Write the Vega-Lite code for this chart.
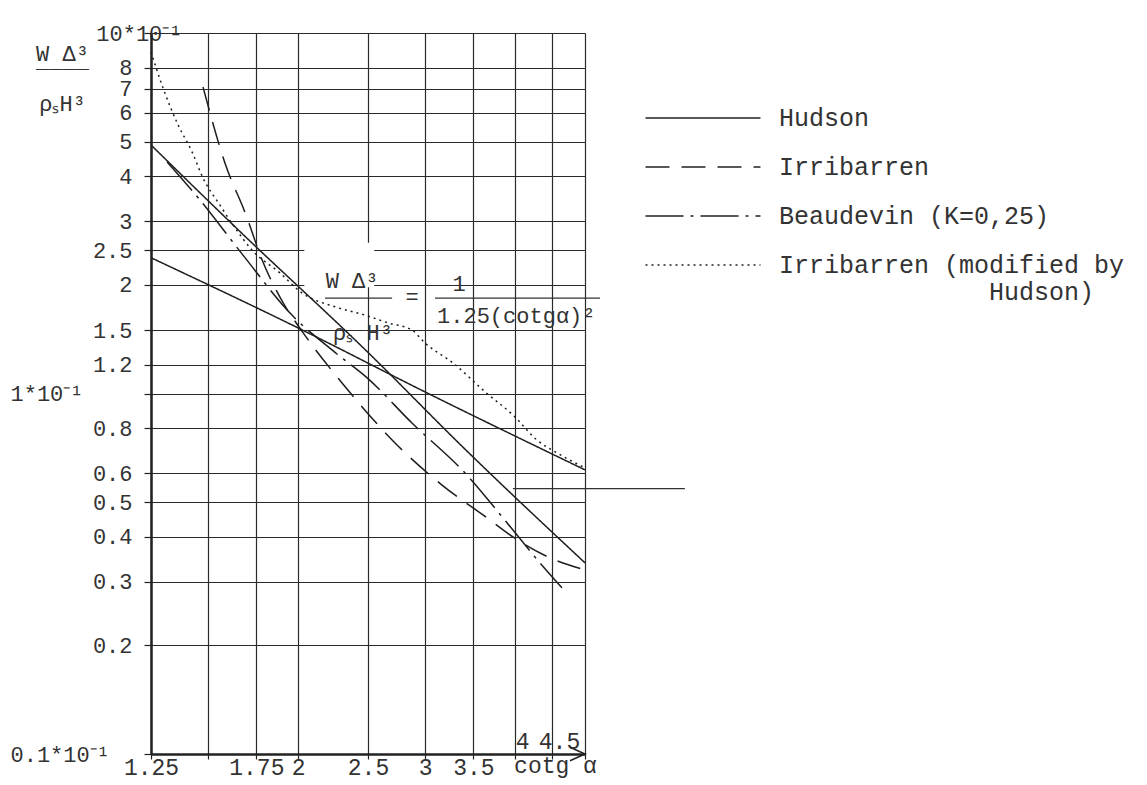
{
  "$schema": "https://vega.github.io/schema/vega-lite/v6.json",
  "width": 434,
  "height": 721,
  "autosize": {"type": "none"},
  "padding": {"left": 151, "top": 33, "right": 562, "bottom": 31},
  "background": "white",
  "config": {"view": {"stroke": null}, "font": "Liberation Mono"},
  "datasets": {
    "curves": [
      {"series": "Hudson", "curve": "H1", "cotg": 1.25, "value": 2.38},
      {"series": "Hudson", "curve": "H1", "cotg": 2.0, "value": 1.52},
      {"series": "Hudson", "curve": "H1", "cotg": 3.0, "value": 1.01},
      {"series": "Hudson", "curve": "H1", "cotg": 5.0, "value": 0.614},
      {"series": "Hudson", "curve": "H2", "cotg": 1.25, "value": 4.89},
      {"series": "Hudson", "curve": "H2", "cotg": 1.65, "value": 2.85},
      {"series": "Hudson", "curve": "H2", "cotg": 2.5, "value": 1.30},
      {"series": "Hudson", "curve": "H2", "cotg": 3.41, "value": 0.70},
      {"series": "Hudson", "curve": "H2", "cotg": 5.0, "value": 0.339},
      {"series": "Irribarren", "curve": "I", "cotg": 1.476, "value": 7.08},
      {"series": "Irribarren", "curve": "I", "cotg": 1.583, "value": 4.36},
      {"series": "Irribarren", "curve": "I", "cotg": 1.693, "value": 3.13},
      {"series": "Irribarren", "curve": "I", "cotg": 1.782, "value": 2.35},
      {"series": "Irribarren", "curve": "I", "cotg": 1.887, "value": 1.85},
      {"series": "Irribarren", "curve": "I", "cotg": 2.044, "value": 1.45},
      {"series": "Irribarren", "curve": "I", "cotg": 2.301, "value": 1.07},
      {"series": "Irribarren", "curve": "I", "cotg": 2.743, "value": 0.72},
      {"series": "Irribarren", "curve": "I", "cotg": 3.167, "value": 0.557},
      {"series": "Irribarren", "curve": "I", "cotg": 3.656, "value": 0.452},
      {"series": "Irribarren", "curve": "I", "cotg": 3.972, "value": 0.40},
      {"series": "Irribarren", "curve": "I", "cotg": 4.471, "value": 0.35},
      {"series": "Irribarren", "curve": "I", "cotg": 5.0, "value": 0.324},
      {"series": "Beaudevin (K=0,25)", "curve": "B", "cotg": 1.316, "value": 4.39},
      {"series": "Beaudevin (K=0,25)", "curve": "B", "cotg": 1.462, "value": 3.44},
      {"series": "Beaudevin (K=0,25)", "curve": "B", "cotg": 1.677, "value": 2.42},
      {"series": "Beaudevin (K=0,25)", "curve": "B", "cotg": 1.961, "value": 1.65},
      {"series": "Beaudevin (K=0,25)", "curve": "B", "cotg": 2.25, "value": 1.30},
      {"series": "Beaudevin (K=0,25)", "curve": "B", "cotg": 2.5, "value": 1.10},
      {"series": "Beaudevin (K=0,25)", "curve": "B", "cotg": 2.877, "value": 0.828},
      {"series": "Beaudevin (K=0,25)", "curve": "B", "cotg": 3.408, "value": 0.602},
      {"series": "Beaudevin (K=0,25)", "curve": "B", "cotg": 3.972, "value": 0.418},
      {"series": "Beaudevin (K=0,25)", "curve": "B", "cotg": 4.33, "value": 0.339},
      {"series": "Beaudevin (K=0,25)", "curve": "B", "cotg": 4.646, "value": 0.289},
      {"series": "Irribarren (modified by Hudson)", "curve": "M", "cotg": 1.25, "value": 8.86},
      {"series": "Irribarren (modified by Hudson)", "curve": "M", "cotg": 1.299, "value": 7.04},
      {"series": "Irribarren (modified by Hudson)", "curve": "M", "cotg": 1.363, "value": 5.56},
      {"series": "Irribarren (modified by Hudson)", "curve": "M", "cotg": 1.425, "value": 4.68},
      {"series": "Irribarren (modified by Hudson)", "curve": "M", "cotg": 1.476, "value": 3.96},
      {"series": "Irribarren (modified by Hudson)", "curve": "M", "cotg": 1.558, "value": 3.33},
      {"series": "Irribarren (modified by Hudson)", "curve": "M", "cotg": 1.635, "value": 2.88},
      {"series": "Irribarren (modified by Hudson)", "curve": "M", "cotg": 1.726, "value": 2.5},
      {"series": "Irribarren (modified by Hudson)", "curve": "M", "cotg": 1.887, "value": 2.16},
      {"series": "Irribarren (modified by Hudson)", "curve": "M", "cotg": 2.025, "value": 1.90},
      {"series": "Irribarren (modified by Hudson)", "curve": "M", "cotg": 2.25, "value": 1.74},
      {"series": "Irribarren (modified by Hudson)", "curve": "M", "cotg": 2.476, "value": 1.65},
      {"series": "Irribarren (modified by Hudson)", "curve": "M", "cotg": 2.665, "value": 1.57},
      {"series": "Irribarren (modified by Hudson)", "curve": "M", "cotg": 2.877, "value": 1.50},
      {"series": "Irribarren (modified by Hudson)", "curve": "M", "cotg": 3.0, "value": 1.38},
      {"series": "Irribarren (modified by Hudson)", "curve": "M", "cotg": 3.28, "value": 1.215},
      {"series": "Irribarren (modified by Hudson)", "curve": "M", "cotg": 3.656, "value": 1.0},
      {"series": "Irribarren (modified by Hudson)", "curve": "M", "cotg": 3.972, "value": 0.872},
      {"series": "Irribarren (modified by Hudson)", "curve": "M", "cotg": 4.289, "value": 0.743},
      {"series": "Irribarren (modified by Hudson)", "curve": "M", "cotg": 4.573, "value": 0.684},
      {"series": "Irribarren (modified by Hudson)", "curve": "M", "cotg": 5.0, "value": 0.622}
    ]
  },
  "layer": [
    {
      "data": {"values": [{}]},
      "mark": {"type": "rect", "color": "white"},
      "encoding": {
        "x": {"datum": 2.04, "type": "quantitative"},
        "x2": {"datum": 2.55},
        "y": {"datum": 2.62, "type": "quantitative"},
        "y2": {"datum": 1.97}
      }
    },
    {
      "data": {"name": "curves"},
      "mark": {"type": "line", "color": "#1e1e1e", "strokeWidth": 1.5, "interpolate": "monotone"},
      "encoding": {
        "x": {
          "field": "cotg", "type": "quantitative",
          "scale": {"type": "log", "domain": [1.25, 5], "nice": false},
          "axis": {
            "values": [1.25, 1.5, 1.75, 2, 2.5, 3, 3.5, 4, 4.5, 5],
            "labelExpr": "datum.value == 1.5 || datum.value == 5 ? '' : '' + datum.value",
            "title": "cotg α", "titleX": 404, "titleY": 0, "titleAlign": "center", "titleBaseline": "top",
            "titleFont": "Liberation Mono", "titleFontSize": 23, "titleFontWeight": "normal", "titleColor": "#333",
            "grid": true, "gridColor": "#2a2a2a", "gridWidth": 1.2, "gridOpacity": 1,
            "domainColor": "#222", "domainWidth": 2.5,
            "tickColor": "#222", "tickSize": 5, "tickWidth": 1.2,
            "labelFont": "Liberation Mono", "labelFontSize": 23, "labelColor": "#333", "labelBaseline": "top",
            "labelPadding": {"condition": {"test": "datum.value >= 4", "value": -29}, "value": -3},
            "labelOffset": {"condition": {"test": "datum.value >= 4", "value": 7}, "value": 0},
            "labelOverlap": false, "labelFlush": false, "labelBound": false
          }
        },
        "y": {
          "field": "value", "type": "quantitative",
          "scale": {"type": "log", "domain": [0.1, 10], "nice": false},
          "axis": {
            "values": [0.1, 0.2, 0.3, 0.4, 0.5, 0.6, 0.8, 1, 1.2, 1.5, 2, 2.5, 3, 4, 5, 6, 7, 8, 10],
            "labelExpr": "datum.value == 10 ? '10*10⁻¹' : datum.value == 1 ? '1*10⁻¹' : datum.value == 0.1 ? '0.1*10⁻¹' : '' + datum.value",
            "labelAlign": {"condition": {"test": "datum.value == 1 || datum.value == 0.1", "value": "left"}, "value": "right"},
            "labelPadding": {"condition": [{"test": "datum.value == 1 || datum.value == 0.1", "value": 134}, {"test": "datum.value == 10", "value": -38}], "value": 12},
            "title": ["W Δ³", "‾‾‾‾", "ρₛH³"],
            "titleAngle": 0, "titleX": -89, "titleY": 27, "titleAlign": "center", "titleBaseline": "alphabetic",
            "titleLineHeight": 25,
            "titleFont": "Liberation Mono", "titleFontSize": 22, "titleFontWeight": "normal", "titleColor": "#333",
            "grid": true, "gridColor": "#2a2a2a", "gridWidth": 1.2, "gridOpacity": 1,
            "domainColor": "#222", "domainWidth": 2.5,
            "tickColor": "#222", "tickSize": 7, "tickWidth": 1.2,
            "labelFont": "Liberation Mono", "labelFontSize": 22, "labelColor": "#333",
            "labelOverlap": false, "labelFlush": false, "labelBound": false
          }
        },
        "detail": {"field": "curve"},
        "strokeDash": {
          "field": "series", "type": "nominal",
          "scale": {
            "domain": ["Hudson", "Irribarren", "Beaudevin (K=0,25)", "Irribarren (modified by Hudson)"],
            "range": [[1, 0], [24, 12], [38, 7, 3, 7], [2, 4]]
          },
          "legend": {
            "orient": "none", "legendX": 532, "legendY": 65, "title": null,
            "symbolType": "M-3,0H3", "symbolSize": 1469, "symbolStrokeWidth": 1.4, "symbolStrokeColor": "#222", "symbolFillColor": "transparent",
            "labelFont": "Liberation Mono", "labelFontSize": 25, "labelColor": "#333", "labelOffset": 56,
            "rowPadding": 16, "labelLimit": 700,
            "labelExpr": "datum.label == 'Irribarren (modified by Hudson)' ? ['Irribarren (modified by', '\u200b\u00a0\u00a0\u00a0\u00a0\u00a0\u00a0\u00a0\u00a0\u00a0\u00a0\u00a0\u00a0\u00a0\u00a0Hudson)'] : datum.label"
          }
        }
      }
    },
    {
      "data": {"values": [{}]},
      "mark": {"type": "rule", "color": "#333", "strokeWidth": 1.3},
      "encoding": {
        "x": {"datum": 3.972, "type": "quantitative"},
        "x2": {"datum": 6.88},
        "y": {"datum": 0.545, "type": "quantitative"}
      }
    },
    {
      "data": {"values": [{}]},
      "mark": {"type": "rule", "color": "#333", "strokeWidth": 1.3},
      "encoding": {
        "x": {"datum": 2.179, "type": "quantitative"},
        "x2": {"datum": 2.7},
        "y": {"datum": 1.84, "type": "quantitative"}
      }
    },
    {
      "data": {"values": [{}]},
      "mark": {"type": "rule", "color": "#333", "strokeWidth": 1.3},
      "encoding": {
        "x": {"datum": 3.097, "type": "quantitative"},
        "x2": {"datum": 5.245},
        "y": {"datum": 1.84, "type": "quantitative"}
      }
    },
    {
      "data": {"values": [{}]},
      "mark": {"type": "text", "font": "Liberation Mono", "fontSize": 22, "align": "center", "baseline": "alphabetic", "color": "#333"},
      "encoding": {
        "x": {"datum": 2.376, "type": "quantitative"},
        "y": {"datum": 1.962, "type": "quantitative"},
        "text": {"value": "W Δ³"}
      }
    },
    {
      "data": {"values": [{}]},
      "mark": {"type": "text", "font": "Liberation Mono", "fontSize": 22, "align": "center", "baseline": "alphabetic", "color": "#333"},
      "encoding": {
        "x": {"datum": 2.46, "type": "quantitative"},
        "y": {"datum": 1.407, "type": "quantitative"},
        "text": {"value": "ρₛ H³"}
      }
    },
    {
      "data": {"values": [{}]},
      "mark": {"type": "text", "font": "Liberation Mono", "fontSize": 22, "align": "center", "baseline": "alphabetic", "color": "#333"},
      "encoding": {
        "x": {"datum": 2.877, "type": "quantitative"},
        "y": {"datum": 1.771, "type": "quantitative"},
        "text": {"value": "="}
      }
    },
    {
      "data": {"values": [{}]},
      "mark": {"type": "text", "font": "Liberation Mono", "fontSize": 22, "align": "center", "baseline": "alphabetic", "color": "#333"},
      "encoding": {
        "x": {"datum": 3.343, "type": "quantitative"},
        "y": {"datum": 1.924, "type": "quantitative"},
        "text": {"value": "1"}
      }
    },
    {
      "data": {"values": [{}]},
      "mark": {"type": "text", "font": "Liberation Mono", "fontSize": 22, "align": "left", "baseline": "alphabetic", "color": "#333"},
      "encoding": {
        "x": {"datum": 3.117, "type": "quantitative"},
        "y": {"datum": 1.569, "type": "quantitative"},
        "text": {"value": "1.25(cotgα)²"}
      }
    },
    {
      "data": {"values": [{}]},
      "mark": {"type": "point", "shape": "M-1,-0.45L0,0L-1,0.45", "size": 900, "filled": false, "stroke": "#222", "strokeWidth": 1.6, "opacity": 1},
      "encoding": {
        "x": {"datum": 5, "type": "quantitative"},
        "y": {"datum": 0.1, "type": "quantitative"}
      }
    }
  ]
}
